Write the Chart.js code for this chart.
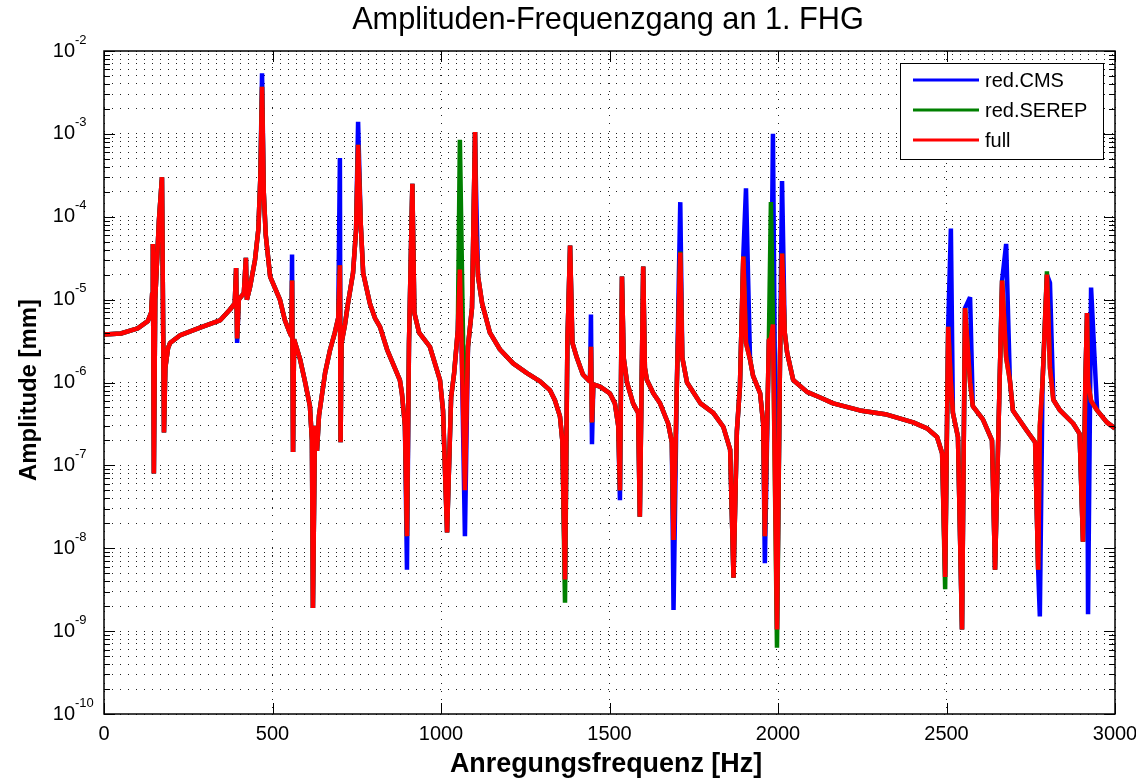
<!DOCTYPE html>
<html>
<head>
<meta charset="utf-8">
<script src="https://cdn.jsdelivr.net/npm/chart.js@4.4.0/dist/chart.umd.min.js"></script>
<style>
  body { margin: 0; background: #fff; }
  #wrap { width: 1136px; height: 781px; }
</style>
</head>
<body>
<div id="wrap"><canvas id="frf" width="1136" height="781"></canvas></div>
<script>
// excitation frequency [Hz] and amplitude [mm] of the full model
const freqHz = [
  0, 50, 100, 130, 140, 143, 145, 148, 152, 163, 172, 178, 182, 190, 196, 225, 285, 344, 374, 388,
  392, 395, 400, 415, 421, 424, 433, 448, 458, 464, 469, 474, 480, 493, 522, 537, 551, 556, 558, 561,
  564, 582, 597, 611, 617, 620, 626, 632, 638, 656, 671, 685, 695, 700, 702, 705, 715, 724, 739, 748,
  754, 762, 769, 789, 804, 819, 840, 878, 884, 893, 899, 905, 915, 921, 935, 967, 997, 1006, 1018, 1030,
  1039, 1050, 1056, 1071, 1080, 1092, 1101, 1104, 1110, 1122, 1145, 1175, 1214, 1255, 1294, 1323, 1338, 1353, 1360, 1368,
  1375, 1383, 1390, 1403, 1421, 1442, 1445, 1448, 1452, 1472, 1501, 1516, 1526, 1531, 1537, 1542, 1552, 1570, 1585, 1590,
  1600, 1605, 1611, 1630, 1650, 1674, 1685, 1690, 1700, 1710, 1716, 1730, 1770, 1808, 1838, 1858, 1868, 1878, 1887, 1897,
  1905, 1917, 1926, 1947, 1956, 1961, 1973, 1979, 1985, 1997, 2006, 2012, 2020, 2027, 2045, 2086, 2125, 2164, 2243, 2323,
  2401, 2442, 2472, 2487, 2496, 2505, 2513, 2519, 2534, 2546, 2555, 2570, 2578, 2608, 2635, 2644, 2665, 2677, 2688, 2697,
  2739, 2763, 2772, 2777, 2785, 2798, 2807, 2817, 2837, 2876, 2895, 2905, 2912, 2917, 2920, 2929, 2947, 2976, 3000
];
const fullAmp = [
  3.8e-6, 3.9e-6, 4.5e-6, 5.5e-6, 7e-6, 1.2e-5, 4.7e-5, 8e-8, 1e-5, 9e-5, 3e-4, 2.5e-7, 1.5e-6, 2.6e-6, 3e-6, 3.7e-6, 4.6e-6, 5.6e-6, 7.6e-6, 9e-6,
  2.4e-5, 3.4e-6, 1e-5, 1.2e-5, 3.2e-5, 1e-5, 1.4e-5, 3e-5, 7e-5, 3e-4, 3.7e-3, 2e-4, 6e-5, 1.9e-5, 1e-5, 5.6e-6, 4e-6, 3.6e-6, 1.7e-5, 1.45e-7,
  3.3e-6, 1.9e-6, 1e-6, 5.2e-7, 2e-7, 1.9e-9, 3e-7, 1.5e-7, 4e-7, 1.3e-6, 2.5e-6, 4e-6, 6e-6, 2.6e-5, 1.9e-7, 3e-6, 5e-6, 9e-6, 2.1e-5, 7e-5,
  7.4e-4, 8e-5, 2.1e-5, 9e-6, 6e-6, 4.7e-6, 2.5e-6, 1.07e-6, 7.4e-7, 3e-7, 1.4e-8, 3e-6, 2.5e-4, 6.9e-6, 4e-6, 2.7e-6, 1.07e-6, 4.6e-7, 1.55e-8, 6.6e-7,
  1.3e-6, 4.3e-6, 2.3e-5, 5e-8, 2.7e-6, 8e-6, 1.05e-3, 6e-5, 1.9e-5, 9e-6, 4e-6, 2.5e-6, 1.7e-6, 1.3e-6, 1.03e-6, 8.1e-7, 6.1e-7, 3.9e-7, 2e-7, 4.2e-9,
  3e-6, 4.5e-5, 3e-6, 2e-6, 1.25e-6, 1.02e-6, 2.7e-6, 3.3e-7, 9.5e-7, 8.9e-7, 7.4e-7, 5.6e-7, 3e-7, 5e-8, 1.9e-5, 2e-6, 1e-6, 5.6e-7, 4.3e-7, 2.4e-8,
  2.5e-5, 1.5e-6, 1.07e-6, 7.4e-7, 5.6e-7, 3.2e-7, 1.9e-7, 1.26e-8, 1e-6, 3.7e-5, 2e-6, 1e-6, 5.6e-7, 4.3e-7, 2.9e-7, 1.55e-7, 4.4e-9, 2.6e-7, 8.9e-7, 3.3e-5,
  3e-6, 1.9e-6, 1.2e-6, 7.4e-7, 3.2e-7, 1.4e-8, 3.3e-6, 3.3e-6, 5e-6, 1.05e-9, 2e-6, 3.6e-5, 4e-6, 2.3e-6, 1.07e-6, 7.7e-7, 6.6e-7, 5.6e-7, 4.6e-7, 4.1e-7,
  3.3e-7, 2.8e-7, 2.2e-7, 1.4e-7, 4.5e-9, 4.7e-6, 1e-6, 4.3e-7, 2.2e-7, 1.05e-9, 7.9e-6, 1e-6, 5.2e-7, 3.6e-7, 2e-7, 5.5e-9, 1.7e-5, 2e-6, 1.07e-6, 4.6e-7,
  2.6e-7, 1.9e-7, 5.5e-9, 3e-7, 1e-6, 2e-5, 1.5e-6, 6.2e-7, 4.6e-7, 3.2e-7, 2.4e-7, 1.2e-8, 1e-6, 6.9e-6, 1e-6, 6e-7, 4.6e-7, 3.3e-7, 2.8e-7
];
// [Hz, amplitude] where the reduced models leave the full curve
const cmsPeaks = [
  [395, 3e-6], [469, 5.4e-3], [558, 3.5e-5], [700, 5.1e-4], [754, 1.4e-3], [899, 5.5e-9],
  [1056, 4.6e-5], [1071, 1.4e-8], [1104, 2.1e-4], [1445, 6.6e-6], [1448, 1.8e-7], [1531, 3.8e-8],
  [1690, 1.8e-9], [1710, 1.5e-4], [1905, 2.2e-4], [1961, 6.6e-9], [1985, 1e-3], [2012, 2.7e-4],
  [2513, 7.2e-5], [2570, 1.07e-5], [2677, 4.7e-5], [2777, 1.5e-9], [2807, 1.6e-5], [2920, 1.6e-9], [2929, 1.4e-5]
];
const serepPeaks = [
  [1056, 8.5e-4], [1071, 1.3e-7], [1368, 2.2e-9], [1710, 3.8e-5], [1979, 1.5e-4],
  [1997, 6.3e-10], [2496, 3.2e-9], [2798, 2.2e-5]
];
const seriesNames = ['red.CMS', 'red.SEREP', 'full'];

const FONT = "'Liberation Sans', Arial, Helvetica, sans-serif";

function curve(peaks) {
  const m = new Map(peaks);
  return freqHz.map((f, i) => ({ x: f, y: m.has(f) ? m.get(f) : fullAmp[i] }));
}

function fitFont(ctx, text, weight, width) {
  ctx.font = weight + ' 100px ' + FONT;
  return 100 * width / ctx.measureText(text).width;
}

// frame, inner ticks, decade labels, legend and texts
const decorations = {
  id: 'decorations',
  afterDatasetsDraw(chart) {
    const { ctx, chartArea: a, scales: { x, y } } = chart;
    ctx.save();
    ctx.strokeStyle = '#000';
    ctx.lineWidth = 1;
    ctx.beginPath();
    y.ticks.forEach(t => {
      const py = Math.round(y.getPixelForValue(t.value)) + 0.5;
      const e = Math.log10(t.value);
      const len = Math.abs(e - Math.round(e)) < 1e-6 ? 11 : 6;
      ctx.moveTo(a.left, py); ctx.lineTo(a.left + len, py);
      ctx.moveTo(a.right, py); ctx.lineTo(a.right - len, py);
    });
    x.ticks.forEach(t => {
      const px = Math.round(x.getPixelForValue(t.value)) + 0.5;
      ctx.moveTo(px, a.bottom); ctx.lineTo(px, a.bottom - 11);
      ctx.moveTo(px, a.top); ctx.lineTo(px, a.top + 11);
    });
    ctx.stroke();
    ctx.lineWidth = 1.5;
    ctx.strokeRect(a.left, a.top, a.right - a.left, a.bottom - a.top);

    // decade labels 10^n
    ctx.fillStyle = '#000';
    ctx.textBaseline = 'middle';
    for (let e = -10; e <= -2; e++) {
      const py = y.getPixelForValue(Math.pow(10, e));
      ctx.font = '20px ' + FONT;
      ctx.textAlign = 'right';
      ctx.fillText('10', 75, py);
      ctx.font = '13px ' + FONT;
      ctx.textAlign = 'left';
      ctx.fillText(String(e), 75, py - 11);
    }

    // legend box inside the axes
    const bx = a.right - 215, by = a.top + 12, bw = 203, bh = 96;
    ctx.fillStyle = '#fff';
    ctx.fillRect(bx, by, bw, bh);
    ctx.lineWidth = 1;
    ctx.strokeRect(bx + 0.5, by + 0.5, bw, bh);
    const rows = chart.data.datasets.slice().reverse();
    ctx.font = '20px ' + FONT;
    ctx.textAlign = 'left';
    rows.forEach((ds, i) => {
      const ly = by + 17 + i * 30;
      ctx.strokeStyle = ds.borderColor;
      ctx.lineWidth = 3;
      ctx.beginPath();
      ctx.moveTo(bx + 13, ly); ctx.lineTo(bx + 79, ly);
      ctx.stroke();
      ctx.fillStyle = '#000';
      ctx.fillText(ds.label, bx + 85, ly + 1);
    });

    // title and axis titles
    const title = 'Amplituden-Frequenzgang an 1. FHG';
    ctx.textAlign = 'center';
    ctx.font = fitFont(ctx, title, 'normal', 512).toFixed(1) + 'px ' + FONT;
    ctx.fillText(title, 608, 21);
    const xl = 'Anregungsfrequenz [Hz]';
    ctx.font = 'bold ' + fitFont(ctx, xl, 'bold', 312).toFixed(1) + 'px ' + FONT;
    ctx.fillText(xl, 606, 765);
    const yl = 'Amplitude [mm]';
    ctx.font = 'bold ' + fitFont(ctx, yl, 'bold', 182).toFixed(1) + 'px ' + FONT;
    ctx.translate(29, 390);
    ctx.rotate(-Math.PI / 2);
    ctx.fillText(yl, 0, 0);
    ctx.restore();
  }
};

const lineStyle = { borderWidth: 4.5, pointRadius: 0, tension: 0, borderJoinStyle: 'bevel', fill: false };

new Chart(document.getElementById('frf'), {
  type: 'line',
  data: {
    // full first so it is drawn on top, legend is drawn reversed
    datasets: [
      { label: seriesNames[2], data: curve([]), borderColor: '#ff0000', ...lineStyle },
      { label: seriesNames[1], data: curve(serepPeaks), borderColor: '#008000', ...lineStyle },
      { label: seriesNames[0], data: curve(cmsPeaks), borderColor: '#0000ff', ...lineStyle }
    ]
  },
  options: {
    responsive: false,
    animation: false,
    layout: { padding: { top: 51, right: 21, left: 0, bottom: 0 } },
    plugins: { legend: { display: false }, title: { display: false }, tooltip: { enabled: false } },
    scales: {
      x: {
        type: 'linear', min: 0, max: 3000,
        ticks: {
          stepSize: 500, color: '#000', padding: 8, maxRotation: 0,
          font: { size: 20, family: FONT },
          callback: v => String(v)
        },
        grid: { color: '#222', lineWidth: 1, drawTicks: false },
        border: { display: false, dash: [1, 7] },
        afterFit(s) { s.height = 67; s.paddingLeft = 0; s.paddingRight = 0; }
      },
      y: {
        type: 'logarithmic', min: 1e-10, max: 1e-2,
        ticks: { display: false, autoSkip: false },
        grid: { color: '#222', lineWidth: 1, drawTicks: false },
        border: { display: false, dash: [1, 7] },
        afterBuildTicks(s) {
          const t = [];
          for (let e = -10; e < -2; e++) for (let m = 1; m <= 9; m++) t.push({ value: m * Math.pow(10, e) });
          t.push({ value: 1e-2 });
          s.ticks = t;
        },
        afterFit(s) { s.width = 104; s.paddingTop = 0; s.paddingBottom = 0; }
      }
    }
  },
  plugins: [decorations]
});
</script>
</body>
</html>
